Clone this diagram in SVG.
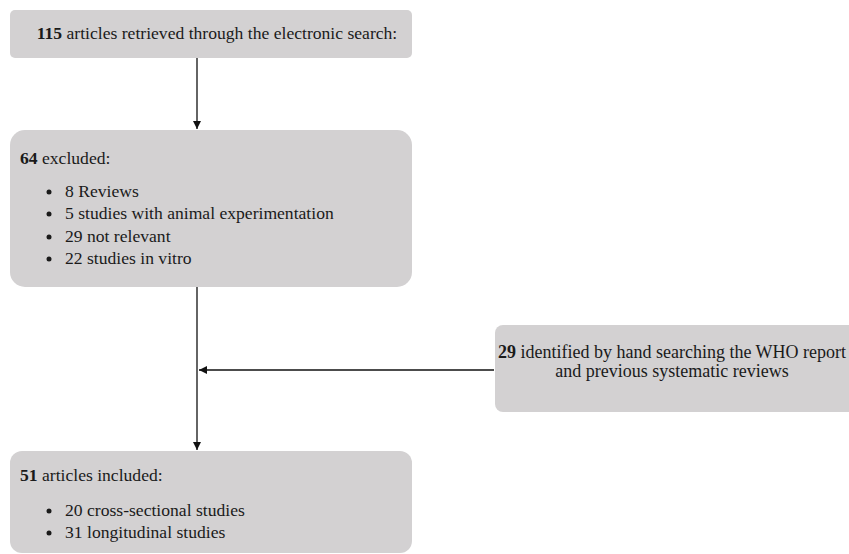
<svg xmlns="http://www.w3.org/2000/svg" width="849" height="554" viewBox="0 0 849 554">
<defs>
<style>
.box{fill:#d3d1d2;}
.t{font-family:"Liberation Serif","Times New Roman",serif;font-size:17.6px;fill:#1a1a1a;}
.t3{font-size:18px;}
.b{font-weight:bold;}
.ln{stroke:#111;stroke-width:1.3;fill:none;}
.dot{fill:#1a1a1a;}
</style>
<marker id="ah" markerWidth="10" markerHeight="10" refX="8" refY="5" orient="auto" markerUnits="userSpaceOnUse">
<path d="M0,1 L8,5 L0,9 Z" fill="#111"/>
</marker>
</defs>
<rect width="849" height="554" fill="#fff"/>
<g id="connectors">
<line class="ln" x1="197" y1="58" x2="197" y2="129" marker-end="url(#ah)"/>
<line class="ln" x1="197" y1="287" x2="197" y2="450" marker-end="url(#ah)"/>
<line class="ln" x1="494" y1="370" x2="199" y2="370" marker-end="url(#ah)"/>
</g>
<g id="n1">
<rect class="box" x="10" y="10" width="402" height="48" rx="5"/>
<text class="t" x="217" y="39" text-anchor="middle"><tspan class="b">115</tspan> articles retrieved through the electronic search:</text>
</g>
<g id="n2">
<rect class="box" x="10" y="130" width="402" height="157" rx="15"/>
<text class="t" x="20" y="164"><tspan class="b">64</tspan> excluded:</text>
<circle class="dot" cx="49" cy="192" r="2.5"/><text class="t" x="65" y="197">8 Reviews</text>
<circle class="dot" cx="49" cy="214" r="2.5"/><text class="t" x="65" y="219">5 studies with animal experimentation</text>
<circle class="dot" cx="49" cy="237" r="2.5"/><text class="t" x="65" y="242">29 not relevant</text>
<circle class="dot" cx="49" cy="259" r="2.5"/><text class="t" x="65" y="264">22 studies in vitro</text>
</g>
<g id="n3">
<rect class="box" x="495" y="325" width="362" height="87" rx="8"/>
<text class="t t3" x="672" y="358" text-anchor="middle"><tspan class="b">29</tspan> identified by hand searching the WHO report</text>
<text class="t t3" x="672" y="377" text-anchor="middle">and previous systematic reviews</text>
</g>
<g id="n4">
<rect class="box" x="10" y="451" width="402" height="102" rx="12"/>
<text class="t" x="20" y="481"><tspan class="b">51</tspan> articles included:</text>
<circle class="dot" cx="49" cy="511" r="2.5"/><text class="t" x="65" y="516">20 cross-sectional studies</text>
<circle class="dot" cx="49" cy="533" r="2.5"/><text class="t" x="65" y="538">31 longitudinal studies</text>
</g>
</svg>
